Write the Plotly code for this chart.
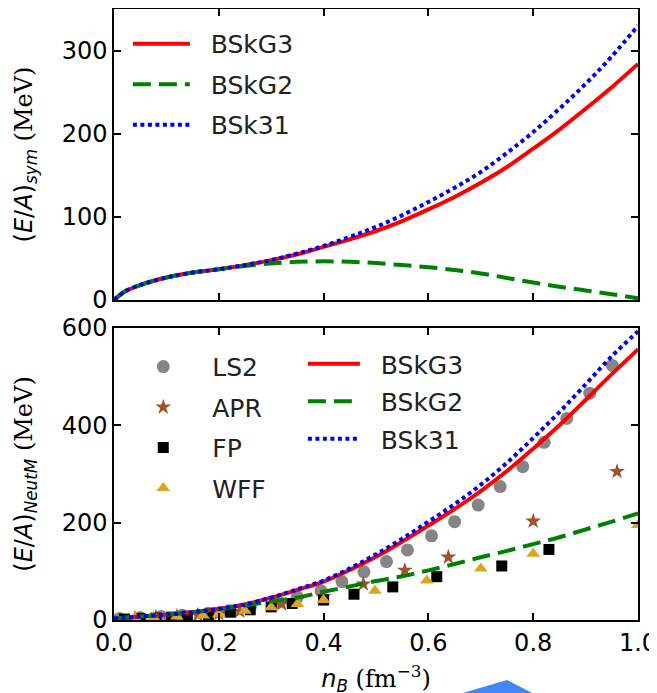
import plotly.graph_objects as go
from plotly.subplots import make_subplots

# ---------------- data ----------------
# top panel: symmetric nuclear matter
n_sym = [0, 0.02, 0.05, 0.1, 0.15, 0.2, 0.25, 0.3, 0.35, 0.4, 0.45, 0.5, 0.55,
         0.6, 0.65, 0.7, 0.75, 0.8, 0.85, 0.9, 0.95, 1.0]
sym_bskg3 = [0, 10, 18, 27, 33, 37, 42, 48, 55, 64, 73, 83, 95, 109, 124, 141,
             160, 182, 205, 230, 256, 284]
sym_bskg2 = [0, 10, 18, 27, 33, 37, 41, 44, 46, 46.5, 46, 44.5, 42, 39.5, 36,
             32, 26.5, 21, 16, 11.5, 7, 2]
sym_bsk31 = [0, 10, 18, 27, 33, 37, 42, 48, 56, 65, 76, 88, 102, 118, 135, 154,
             177, 202, 230, 260, 293, 330]

# bottom panel: neutron matter
n_neut = [0, 0.05, 0.1, 0.15, 0.2, 0.25, 0.3, 0.35, 0.4, 0.45, 0.5, 0.55, 0.6,
          0.65, 0.7, 0.75, 0.8, 0.85, 0.9, 0.95, 1.0]
neut_bskg3 = [3, 7, 11, 16, 23, 32, 46, 62, 79, 103, 130, 161, 194, 228, 265,
              306, 352, 400, 452, 505, 556]
neut_bskg2 = [3, 7, 11, 16, 22, 30, 38, 46, 58, 69, 80, 90, 102, 115, 129, 142,
              156, 170, 186, 202, 219]
neut_bsk31 = [3, 7, 11, 16, 23, 32, 46, 63, 81, 106, 135, 167, 202, 238, 278,
              323, 374, 427, 484, 542, 593]

ls2_n = [0.01, 0.05, 0.09, 0.13, 0.18, 0.22, 0.26, 0.31, 0.35, 0.395, 0.435,
         0.477, 0.52, 0.56, 0.606, 0.65, 0.695, 0.737, 0.78, 0.821, 0.864, 0.908, 0.951]
ls2_e = [3, 5, 7, 10, 14, 19, 26, 36, 47, 60, 79, 99, 120, 144, 173, 202, 236,
         274, 315, 365, 414, 466, 523]

apr_n = [0.04, 0.08, 0.12, 0.16, 0.2, 0.24, 0.32, 0.40, 0.476, 0.555, 0.638, 0.80, 0.96]
apr_e = [4, 6, 8, 10, 13, 18, 33, 48, 74, 102, 129, 203, 305]

fp_n = [0.02, 0.05, 0.08, 0.11, 0.14, 0.18, 0.222, 0.26, 0.30, 0.340, 0.40,
        0.458, 0.532, 0.616, 0.74, 0.83]
fp_e = [2, 3, 4, 6, 8, 11, 16, 21, 27, 34, 41, 53, 68, 89, 111, 145]

wff_n = [0.04, 0.075, 0.12, 0.17, 0.20, 0.25, 0.30, 0.35, 0.40, 0.498, 0.597,
         0.70, 0.80, 1.00]
wff_e = [5, 6, 7, 9, 12, 19, 26, 33, 41, 60, 81, 106, 136, 195]

x_ticks = [0.0, 0.2, 0.4, 0.6, 0.8, 1.0]
x_ticklabels = ["0.0", "0.2", "0.4", "0.6", "0.8", "1.0"]

# ---------------- figure ----------------
FONT = "DejaVu Sans"
fig = make_subplots(rows=2, cols=1)

line_styles = [
    ("BSkG3", "#ff0000", "solid"),
    ("BSkG2", "#008000", "18px,8px"),
    ("BSk31", "#0000ff", "4px,3.5px"),
]
sym_vals = [sym_bskg3, sym_bskg2, sym_bsk31]
neut_vals = [neut_bskg3, neut_bskg2, neut_bsk31]
PAD = "&nbsp;&nbsp;"

# top panel lines
for (name, col, dash), ys in zip(line_styles, sym_vals):
    fig.add_trace(go.Scatter(x=n_sym, y=ys, mode="lines", name=PAD + name,
                             line=dict(color=col, width=4, dash=dash, shape="spline"),
                             legend="legend", legendgroup="t" + name),
                  row=1, col=1)

# bottom panel markers
markers = [
    ("LS2", ls2_n, ls2_e, "circle", "#858585", 13),
    ("APR", apr_n, apr_e, "star", "#a0522d", 12),
    ("FP", fp_n, fp_e, "square", "#000000", 11),
    ("WFF", wff_n, wff_e, "triangle-up", "#daa520", 12),
]
for name, xs, ys, sym, col, sz in markers:
    fig.add_trace(go.Scatter(x=xs, y=ys, mode="markers", name=name,
                             marker=dict(symbol=sym, color=col, size=sz, line=dict(width=0)),
                             legend="legend2", legendgroup="m" + name),
                  row=2, col=1)

# bottom panel lines
for (name, col, dash), ys in zip(line_styles, neut_vals):
    fig.add_trace(go.Scatter(x=n_neut, y=ys, mode="lines", name=PAD + name,
                             line=dict(color=col, width=4, dash=dash, shape="spline"),
                             legend="legend3", legendgroup="b" + name),
                  row=2, col=1)

axis_common = dict(showline=True, linecolor="black", linewidth=1.5, mirror="allticks",
                   ticks="inside", ticklen=7, tickwidth=1.5, tickcolor="black",
                   showgrid=False, zeroline=False, automargin=False,
                   ticklabeloverflow="allow",
                   tickfont=dict(family=FONT, size=24, color="black"))

fig.update_xaxes(**axis_common)
fig.update_yaxes(**axis_common)

fig.update_xaxes(range=[0, 1], tickvals=x_ticks, ticktext=x_ticklabels,
                 showticklabels=False, row=1, col=1)
fig.update_xaxes(range=[0, 1], tickvals=x_ticks, ticktext=x_ticklabels,
                 title=dict(text="<i>n</i><sub><i>B</i></sub> <span style='font-family:DejaVu Serif'>(fm<sup>−3</sup>)</span>",
                            font=dict(family=FONT, size=24, color="black"), standoff=15),
                 row=2, col=1)
fig.update_yaxes(range=[0, 350], tickvals=[0, 100, 200, 300], domain=[0.5237, 1.0],
                 title=dict(text="(<i>E</i>/<i>A</i>)<sub><i>sym</i></sub> <span style='font-family:DejaVu Serif'>(MeV)</span>",
                            font=dict(family=FONT, size=24, color="black"), standoff=22),
                 row=1, col=1)
fig.update_yaxes(range=[0, 600], tickvals=[0, 200, 400, 600], domain=[0.0, 0.478],
                 title=dict(text="(<i>E</i>/<i>A</i>)<sub><i>NeutM</i></sub> <span style='font-family:DejaVu Serif'>(MeV)</span>",
                            font=dict(family=FONT, size=24, color="black"), standoff=22),
                 row=2, col=1)

leg_common = dict(xanchor="left", yanchor="top", bgcolor="rgba(0,0,0,0)",
                  font=dict(family=FONT, size=25, color="#222222"),
                  traceorder="grouped", borderwidth=0)

fig.update_layout(
    width=657, height=693,
    margin=dict(l=106, r=27, t=1, b=81, autoexpand=False),
    plot_bgcolor="white", paper_bgcolor="white",
    showlegend=True,
    legend=dict(x=0.0265, y=0.9805, itemwidth=57, tracegroupgap=5, **leg_common),
    legend2=dict(x=0.0005, y=0.452, itemwidth=88, tracegroupgap=5, **leg_common),
    legend3=dict(x=0.3605, y=0.4565, itemwidth=52, tracegroupgap=2, **leg_common),
    shapes=[dict(type="path", xref="paper", yref="paper",
                 path="M 0.666 -0.14 L 0.666 -0.1195 L 0.750 -0.0982 L 0.798 -0.1195 L 0.798 -0.14 Z",
                 fillcolor="#4285f4", line=dict(width=0), layer="above")],
)

fig.write_html("out.html")
